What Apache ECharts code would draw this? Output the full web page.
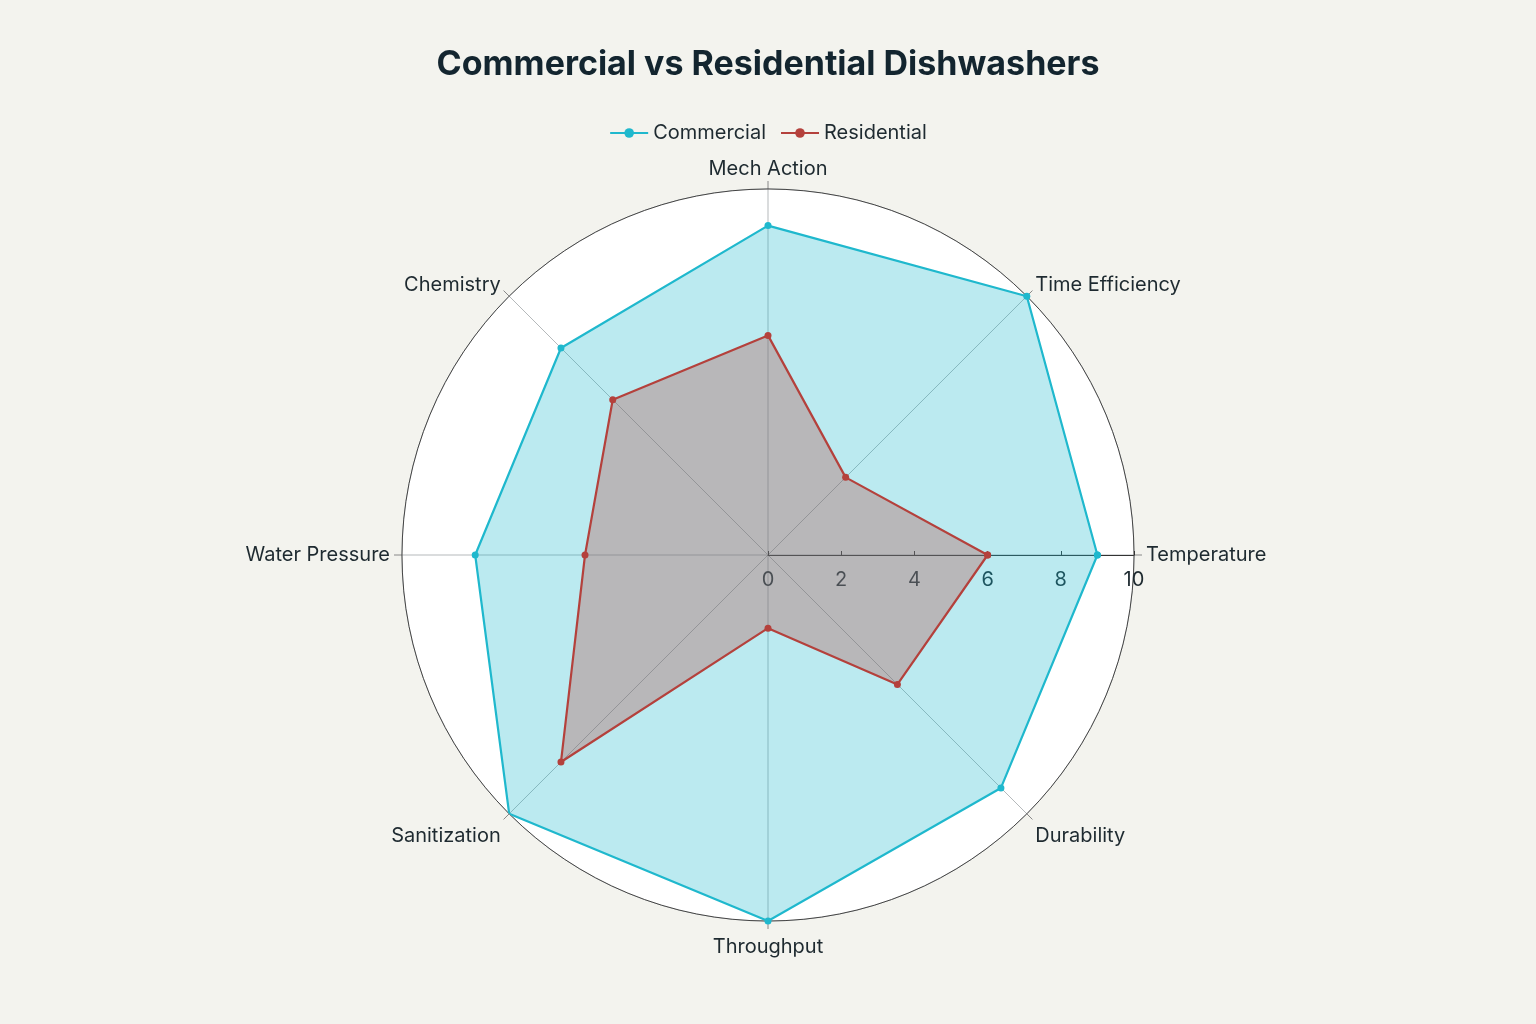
<!DOCTYPE html>
<html>
<head>
<meta charset="utf-8">
<style>
html,body{margin:0;padding:0;background:#F3F3EE;}
#chart{width:1536px;height:1024px;}
</style>
<script src="https://cdn.jsdelivr.net/npm/echarts@6/dist/echarts.min.js"></script>
</head>
<body>
<div id="chart"></div>
<script>
const categories = ['Temperature','Time Efficiency','Mech Action','Chemistry','Water Pressure','Sanitization','Throughput','Durability'];
const commercial = [9, 10, 9, 8, 8, 10, 10, 9];
const residential = [6, 3, 6, 6, 5, 8, 2, 5];
const radialTicks = [0, 2, 4, 6, 8, 10];

const step = 360 / categories.length;
function toPolar(vals){
  const d = vals.map((v,i)=>[v, i*step]);
  d.push([vals[0], 360]);
  return d;
}
const FONT = 'Inter, "Noto Sans", sans-serif';
const LABEL_COLOR = '#1E2A30';
// rich styles nudge label placement per direction
const dirStyle = ['e','ne','n','ne','e','se','s','se'];
const chart = echarts.init(document.getElementById('chart'));
chart.setOption({
  backgroundColor: '#F3F3EE',
  title: {
    text: 'Commercial vs Residential Dishwashers',
    left: 'center', top: 43,
    textStyle: {fontFamily: FONT, fontSize: 34, fontWeight: 'bold', color: '#13252F'}
  },
  legend: {
    top: 118, left: 'center', itemGap: 14, itemWidth: 38, itemHeight: 12,
    textStyle: {fontFamily: FONT, fontSize: 20, color: LABEL_COLOR},
    data: ['Commercial','Residential']
  },
  polar: {center: ['50%', 555], radius: 366},
  angleAxis: {
    type: 'value', min: 0, max: 360, interval: step, startAngle: 0, clockwise: false,
    axisLine: {show: true, lineStyle: {color: '#444', width: 1}},
    axisTick: {show: true, length: 8, lineStyle: {color: '#888'}},
    splitLine: {show: true, lineStyle: {color: '#B5B9BB', width: 1}},
    axisLabel: {
      fontFamily: FONT, fontSize: 20, color: LABEL_COLOR, margin: 12,
      formatter: v => {
        const i = Math.round(v/step);
        if (v >= 360 || !categories[i]) return '';
        return '{' + dirStyle[i] + '|' + categories[i] + '}';
      },
      rich: {
        e: {fontFamily: FONT, fontSize: 20, color: LABEL_COLOR},
        n: {fontFamily: FONT, fontSize: 20, color: LABEL_COLOR, padding: [0,0,-2,0]},
        ne: {fontFamily: FONT, fontSize: 20, color: LABEL_COLOR, padding: [0,0,-7,0]},
        se: {fontFamily: FONT, fontSize: 20, color: LABEL_COLOR, padding: [4,0,0,0]},
        s: {fontFamily: FONT, fontSize: 20, color: LABEL_COLOR, padding: [4,0,0,0]}
      }
    }
  },
  radiusAxis: {
    type: 'value', min: radialTicks[0], max: radialTicks[radialTicks.length-1], interval: 2,
    axisLine: {show: true, lineStyle: {color: '#333', width: 1}},
    axisTick: {show: true, length: 4, lineStyle: {color: '#333'}},
    axisLabel: {fontFamily: FONT, fontSize: 20, color: LABEL_COLOR, margin: -15, verticalAlign: 'top'},
    splitLine: {show: true, lineStyle: {color: '#A9B1B5', width: 1}},
    splitArea: {show: true, areaStyle: {color: ['#FFFFFF']}}
  },
  series: [
    {
      name: 'Commercial', type: 'line', coordinateSystem: 'polar',
      data: toPolar(commercial), symbol: 'circle', symbolSize: 7,
      itemStyle: {color: '#1FB8CD'},
      lineStyle: {color: '#1FB8CD', width: 2.2},
      areaStyle: {color: '#1FB8CD', opacity: 0.3, origin: 'start'},
      z: 3
    },
    {
      name: 'Residential', type: 'line', coordinateSystem: 'polar',
      data: toPolar(residential), symbol: 'circle', symbolSize: 7,
      itemStyle: {color: '#B4413C'},
      lineStyle: {color: '#B4413C', width: 2.2},
      areaStyle: {color: '#B4413C', opacity: 0.3, origin: 'start'},
      z: 4
    }
  ]
});
</script>
</body>
</html>
